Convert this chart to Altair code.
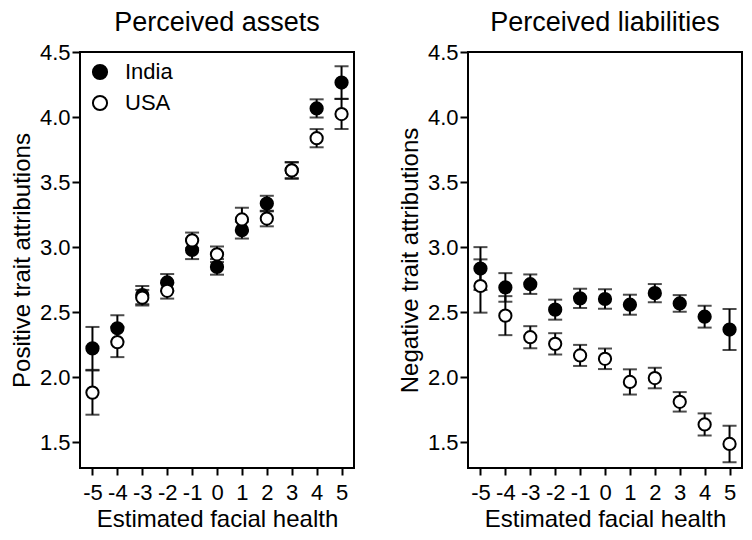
import altair as alt
import pandas as pd

x_levels = [-5, -4, -3, -2, -1, 0, 1, 2, 3, 4, 5]
countries = ["India", "USA"]

assets_india_mean = [2.22, 2.375, 2.63, 2.727, 2.977, 2.847, 3.13, 3.334, 3.59, 4.066, 4.265]
assets_india_se = [0.165, 0.10, 0.07, 0.065, 0.07, 0.06, 0.065, 0.06, 0.06, 0.07, 0.125]
assets_usa_mean = [1.88, 2.268, 2.61, 2.663, 3.051, 2.944, 3.212, 3.219, 3.589, 3.837, 4.023]
assets_usa_se = [0.17, 0.115, 0.06, 0.06, 0.06, 0.06, 0.09, 0.06, 0.065, 0.07, 0.115]

liab_india_mean = [2.834, 2.689, 2.714, 2.518, 2.605, 2.60, 2.556, 2.645, 2.566, 2.464, 2.365]
liab_india_se = [0.165, 0.11, 0.075, 0.077, 0.074, 0.075, 0.077, 0.07, 0.064, 0.084, 0.158]
liab_usa_mean = [2.70, 2.472, 2.306, 2.255, 2.166, 2.14, 1.962, 1.992, 1.809, 1.635, 1.485]
liab_usa_se = [0.205, 0.15, 0.085, 0.082, 0.081, 0.079, 0.097, 0.079, 0.075, 0.085, 0.14]

y_ticks = [1.5, 2.0, 2.5, 3.0, 3.5, 4.0, 4.5]

FONT = "Liberation Sans"


def make_df(india_mean, india_se, usa_mean, usa_se):
    rows = []
    for c, means, ses in [("India", india_mean, india_se), ("USA", usa_mean, usa_se)]:
        for x, m, s in zip(x_levels, means, ses):
            rows.append({"x": x, "country": c, "mean": m, "lo": m - s, "hi": m + s})
    return pd.DataFrame(rows)


x_axis = alt.Axis(values=x_levels, title="Estimated facial health",
                  labelExpr="datum.value < 0 ? '-' + abs(datum.value) : '' + datum.value",
                  labelFontSize=22, titleFontSize=24, titleFontWeight="normal",
                  tickSize=7, tickWidth=2, tickColor="black", domain=False, grid=False,
                  labelPadding=7, titlePadding=4, labelColor="black", titleColor="black",
                  labelFont=FONT, titleFont=FONT, labelOverlap=False)


def y_axis(title):
    return alt.Axis(values=y_ticks, format=".1f", title=title,
                    labelFontSize=22, titleFontSize=24, titleFontWeight="normal",
                    tickSize=8, tickWidth=2, tickColor="black", domain=False, grid=False,
                    labelPadding=2, titlePadding=5, labelColor="black", titleColor="black",
                    labelFont=FONT, titleFont=FONT)


def panel(df, title, ytitle, show_legend):
    base = alt.Chart(df)
    xs = alt.X("x:Q", scale=alt.Scale(domain=[-5.5, 5.5], nice=False, zero=False), axis=x_axis)
    ys = alt.Y("lo:Q", scale=alt.Scale(domain=[1.3, 4.5], nice=False, zero=False), axis=y_axis(ytitle))
    layers = []
    for c in countries:
        sub = base.transform_filter(alt.datum.country == c)
        eb = sub.mark_errorbar(color="black", thickness=2,
                               ticks={"size": 14, "thickness": 2, "color": "black"}).encode(
            x=xs, y=ys, y2="hi:Q")
        if show_legend:
            leg = alt.Legend(title=None, orient="top-left", labelFontSize=22, labelFont=FONT,
                             labelColor="black", symbolStrokeColor="black", symbolStrokeWidth=2,
                             symbolSize=200, symbolType="circle", rowPadding=7, offset=9,
                             labelOffset=14)
        else:
            leg = None
        pt = sub.mark_point(filled=True, size=150, shape="circle", stroke="black",
                            strokeWidth=2, opacity=1).encode(
            x=xs,
            y=alt.Y("mean:Q"),
            fill=alt.Fill("country:N", scale=alt.Scale(domain=countries, range=["black", "white"]),
                          legend=leg),
        )
        layers += [eb, pt]
    return alt.layer(*layers).properties(
        width=274, height=416,
        title=alt.TitleParams(title, fontSize=27, font=FONT, fontWeight="normal", color="black",
                              offset=4, anchor="middle"))


left = panel(make_df(assets_india_mean, assets_india_se, assets_usa_mean, assets_usa_se),
             "Perceived assets", "Positive trait attributions", True)
right = panel(make_df(liab_india_mean, liab_india_se, liab_usa_mean, liab_usa_se),
              "Perceived liabilities", "Negative trait attributions", False)

chart = alt.hconcat(left, right, spacing=42).resolve_legend(fill="independent").configure(
    padding={"left": 1, "top": 0, "right": 0, "bottom": 0},
    font=FONT,
).configure_view(stroke="black", strokeWidth=2)

chart.save("out.html", embed_options={"renderer": "svg", "actions": False})
